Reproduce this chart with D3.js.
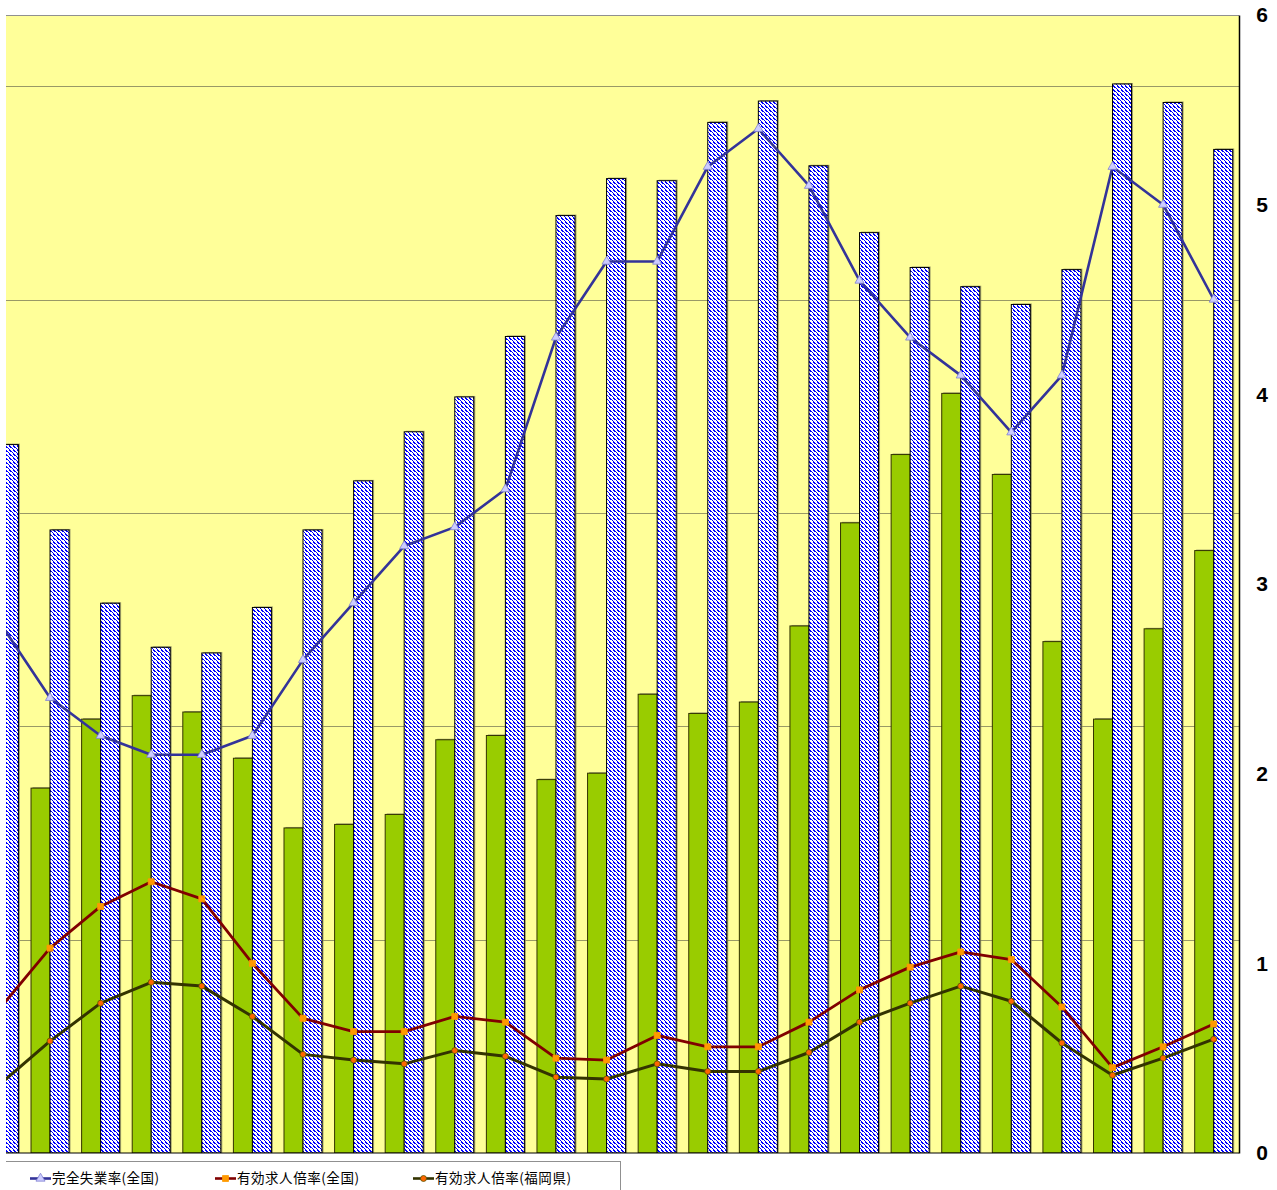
<!DOCTYPE html>
<html><head><meta charset="utf-8">
<script src="https://cdn.jsdelivr.net/npm/d3@7"></script>
<style>html,body{margin:0;padding:0;background:#fff;}svg{display:block;}</style>
</head><body>
<svg id="chart" width="1277" height="1190"></svg>
<script>
// ---- data ----
const categories = ["1","2","3","4","5","6","7","8","9","10","11","12","13","14","15","16","17","18","19","20","21","22","23","24","25"];
const blueBars  = [9.96, 8.76, 7.73, 7.11, 7.03, 7.67, 8.76, 9.45, 10.14, 10.63, 11.48, 13.18, 13.70, 13.67, 14.49, 14.79, 13.88, 12.94, 12.45, 12.18, 11.93, 12.42, 15.03, 14.77, 14.11];
const greenBars = [null, 5.13, 6.10, 6.43, 6.20, 5.55, 4.57, 4.62, 4.76, 5.81, 5.87, 5.25, 5.34, 6.45, 6.18, 6.34, 7.41, 8.86, 9.82, 10.68, 9.54, 7.19, 6.10, 7.37, 8.47];
const unemploymentNation = [2.8, 2.4, 2.2, 2.1, 2.1, 2.2, 2.6, 2.9, 3.2, 3.3, 3.5, 4.3, 4.7, 4.7, 5.2, 5.4, 5.1, 4.6, 4.3, 4.1, 3.8, 4.1, 5.2, 5.0, 4.5];
const jobRatioNation     = [0.76, 1.08, 1.30, 1.43, 1.34, 1.00, 0.71, 0.64, 0.64, 0.72, 0.69, 0.50, 0.49, 0.62, 0.56, 0.56, 0.69, 0.86, 0.98, 1.06, 1.02, 0.77, 0.45, 0.56, 0.68];
const jobRatioFukuoka    = [0.36, 0.59, 0.79, 0.90, 0.88, 0.72, 0.52, 0.49, 0.47, 0.54, 0.51, 0.40, 0.39, 0.47, 0.43, 0.43, 0.53, 0.69, 0.79, 0.88, 0.80, 0.58, 0.41, 0.50, 0.60];
const seriesNames = ["完全失業率(全国)", "有効求人倍率(全国)", "有効求人倍率(福岡県)"];
const leftTicks  = [3, 6, 9, 12, 15];
const rightTicks = [0, 1, 2, 3, 4, 5, 6];

// ---- layout ----
const svg = d3.select("#chart");
const plot = {left: -25.87, right: 1239, top: 15, bottom: 1153};
const visibleLeft = 6;

const defs = svg.append("defs");
defs.append("clipPath").attr("id", "crop")
  .append("rect").attr("x", visibleLeft).attr("y", 0).attr("width", 1277 - visibleLeft).attr("height", 1190);
defs.append("clipPath").attr("id", "plotclip")
  .append("rect").attr("x", visibleLeft).attr("y", plot.top).attr("width", plot.right - visibleLeft).attr("height", plot.bottom - plot.top);

const pat = defs.append("pattern").attr("id", "hatch")
  .attr("patternUnits", "userSpaceOnUse").attr("width", 4).attr("height", 4);
pat.append("rect").attr("width", 4).attr("height", 4).attr("fill", "#ffffff");
pat.append("path").attr("d", "M-1,-1 L5,5 M-1,3 L1,5 M3,-1 L5,1")
  .attr("stroke", "#0000ff").attr("stroke-width", 1.4).attr("shape-rendering", "crispEdges");

const x = d3.scaleBand().domain(categories).range([plot.left, plot.right]).paddingInner(0).paddingOuter(0);
const bw = x.bandwidth();
const sub = d3.scaleBand().domain(["green", "blue"]).range([bw / 2 - 19, bw / 2 + 19]);
const yL = d3.scaleLinear().domain([0, 16]).range([plot.bottom, plot.top]);
const yR = d3.scaleLinear().domain([0, 6]).range([plot.bottom, plot.top]);

const root = svg.append("g").attr("clip-path", "url(#crop)");

// plot background
root.append("rect").attr("x", plot.left).attr("y", plot.top)
  .attr("width", plot.right - plot.left).attr("height", plot.bottom - plot.top)
  .attr("fill", "#ffff99");

// gridlines from left axis
const grid = root.append("g").attr("transform", `translate(${plot.left},0)`)
  .call(d3.axisLeft(yL).tickValues(leftTicks).tickSize(-(plot.right - plot.left)).tickFormat(""));
grid.select(".domain").remove();
grid.selectAll("line").attr("stroke", "#999966").attr("stroke-width", 1).attr("shape-rendering", "crispEdges");

// top border
root.append("line").attr("x1", plot.left).attr("x2", plot.right).attr("y1", plot.top + 0.5).attr("y2", plot.top + 0.5)
  .attr("stroke", "#909090").attr("stroke-width", 1);

const pg = root.append("g").attr("clip-path", "url(#plotclip)");

// bars
const greenData = categories.map((c, i) => ({c, v: greenBars[i]})).filter(d => d.v != null);
const blueData  = categories.map((c, i) => ({c, v: blueBars[i]}));

// shadows
pg.append("g").selectAll("rect").data(greenData.concat(blueData.map(d => ({...d, b: true})))).join("rect")
  .attr("x", d => x(d.c) + sub(d.b ? "blue" : "green") + 1.5)
  .attr("y", d => yL(d.v) - 1)
  .attr("width", sub.bandwidth())
  .attr("height", d => yL(0) - yL(d.v) + 1)
  .attr("fill", "#8a8a60").attr("opacity", 0.8);

pg.append("g").selectAll("rect").data(greenData).join("rect")
  .attr("x", d => x(d.c) + sub("green"))
  .attr("y", d => yL(d.v))
  .attr("width", sub.bandwidth())
  .attr("height", d => yL(0) - yL(d.v))
  .attr("fill", "#99cc00").attr("stroke", "#333300").attr("stroke-width", 1);

pg.append("g").selectAll("rect").data(blueData).join("rect")
  .attr("x", d => x(d.c) + sub("blue"))
  .attr("y", d => yL(d.v))
  .attr("width", sub.bandwidth())
  .attr("height", d => yL(0) - yL(d.v))
  .attr("fill", "url(#hatch)").attr("stroke", "#000000").attr("stroke-width", 1);

// lines
const cx = c => x(c) + bw / 2;
const line = d3.line().x(d => cx(d.c)).y(d => yR(d.v));
const toPts = arr => categories.map((c, i) => ({c, v: arr[i]}));

const series = [
  {name: seriesNames[0], data: toPts(unemploymentNation), color: "#333399", width: 2.6, marker: "triangle", mfill: "#ccccff", mstroke: "#8080d0", msize: 36},
  {name: seriesNames[1], data: toPts(jobRatioNation), color: "#800000", width: 2.8, marker: "square", mfill: "#ff9900", mstroke: "#ff9900", msize: 36},
  {name: seriesNames[2], data: toPts(jobRatioFukuoka), color: "#333300", width: 3, marker: "circle", mfill: "#ff6600", mstroke: "#555500", msize: 28}
];
const symType = {triangle: d3.symbolTriangle, square: d3.symbolSquare, circle: d3.symbolCircle};

series.forEach(s => {
  pg.append("path").datum(s.data).attr("d", line)
    .attr("fill", "none").attr("stroke", s.color).attr("stroke-width", s.width).attr("stroke-linejoin", "round");
  pg.append("g").selectAll("path").data(s.data).join("path")
    .attr("transform", d => `translate(${cx(d.c)},${yR(d.v)})`)
    .attr("d", d3.symbol().type(symType[s.marker]).size(s.msize))
    .attr("fill", s.mfill).attr("stroke", s.mstroke).attr("stroke-width", 0.8);
});

// bottom axis line
root.append("line").attr("x1", plot.left).attr("x2", plot.right).attr("y1", plot.bottom).attr("y2", plot.bottom)
  .attr("stroke", "#000").attr("stroke-width", 1.2);

// right axis
const ra = root.append("g").attr("transform", `translate(${plot.right},0)`)
  .call(d3.axisRight(yR).tickValues(rightTicks).tickSize(0).tickPadding(23).tickFormat(d3.format("d")));
ra.select(".domain").attr("stroke", "#000").attr("stroke-width", 1.5);
ra.selectAll("text").attr("font-family", "Liberation Sans, Arial, sans-serif").attr("font-weight", "bold")
  .attr("font-size", 21).attr("fill", "#000").attr("text-anchor", "middle");

// legend
const lg = root.append("g");
lg.append("rect").attr("x", -10).attr("y", 1161.5).attr("width", 630.5).attr("height", 60)
  .attr("fill", "#fff").attr("stroke", "#909090").attr("stroke-width", 1);
const legendX = [30, 215, 413];
const legendW = [107, 122, 136];
series.forEach((s, i) => {
  const g = lg.append("g").attr("transform", `translate(${legendX[i]},1178.5)`);
  g.append("line").attr("x1", 0).attr("x2", 21).attr("y1", 0).attr("y2", 0).attr("stroke", s.color).attr("stroke-width", 2.6);
  g.append("path").attr("transform", "translate(10.5,0)").attr("d", d3.symbol().type(symType[s.marker]).size(s.msize))
    .attr("fill", s.mfill).attr("stroke", s.mstroke).attr("stroke-width", 0.8);
  g.append("text").attr("x", 22).attr("y", 0).attr("dy", "0.36em")
    .attr("font-family", "Noto Sans CJK JP, sans-serif").attr("font-size", 13.5).attr("fill", "#000")
    .attr("textLength", legendW[i]).attr("lengthAdjust", "spacing")
    .text(s.name);
});
</script>
</body></html>
